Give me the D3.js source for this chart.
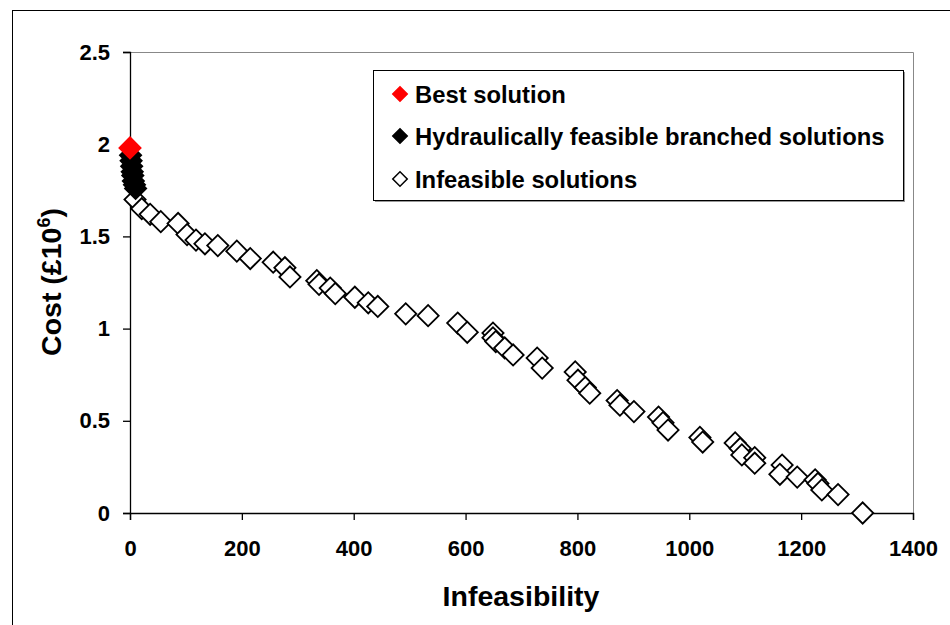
<!DOCTYPE html>
<html>
<head>
<meta charset="utf-8">
<script src="https://cdn.jsdelivr.net/npm/d3@7"></script>
<style>
  body { margin: 0; background: #fff; }
  svg text { font-family: "Liberation Sans", Arial, sans-serif; font-weight: bold; }
</style>
</head>
<body>
<svg id="chart" width="950" height="625"></svg>
<script>
// best solution
var bestX = [0];
var bestY = [1.98];

// hydraulically feasible branched solutions
var feasX = [1, 2, 3, 4, 5, 6, 8, 10];
var feasY = [1.94, 1.91, 1.88, 1.85, 1.83, 1.80, 1.78, 1.76];

// infeasible solutions
var infX = [9, 21, 36, 55, 86, 102, 118, 134, 157, 191, 215, 256, 277, 286,
            334, 338, 358, 367, 402, 426, 443, 493, 533, 586, 603, 649, 649, 654,
            670, 685, 728, 737, 796, 801, 814, 822, 871, 876, 901, 945, 953, 962,
            1019, 1024, 1082, 1091, 1094, 1117, 1117, 1166, 1162, 1193, 1225, 1230,
            1237, 1266, 1310];
var infY = [1.70, 1.65, 1.62, 1.58, 1.57, 1.51, 1.48, 1.46, 1.45, 1.42, 1.38, 1.36, 1.33, 1.28,
            1.26, 1.24, 1.22, 1.19, 1.17, 1.14, 1.12, 1.08, 1.07, 1.03, 0.98, 0.976, 0.95, 0.93,
            0.895, 0.857, 0.84, 0.786, 0.765, 0.72, 0.68, 0.65, 0.61, 0.585, 0.55, 0.52, 0.49, 0.45,
            0.41, 0.385, 0.38, 0.35, 0.315, 0.30, 0.27, 0.26, 0.21, 0.195, 0.18, 0.16,
            0.125, 0.10, 0.0];

var xTicks = [0, 200, 400, 600, 800, 1000, 1200, 1400];
var yTicks = [0, 0.5, 1, 1.5, 2, 2.5];

var legendLabels = ["Best solution", "Hydraulically feasible branched solutions", "Infeasible solutions"];

var svg = d3.select("#chart"),
    margin = {top: 52, right: 37, bottom: 112, left: 130},
    width = +svg.attr("width") - margin.left - margin.right,
    height = +svg.attr("height") - margin.top - margin.bottom;

// outer chart frame
svg.append("rect")
    .attr("x", 12.5)
    .attr("y", 10.5)
    .attr("width", 960)
    .attr("height", 640)
    .attr("fill", "none")
    .attr("stroke", "#000")
    .attr("stroke-width", 1);

var g = svg.append("g")
    .attr("transform", "translate(" + margin.left + "," + margin.top + ")");

var scaleX = d3.scaleLinear().domain([0, 1400]).range([0, width]);
var scaleY = d3.scaleLinear().domain([0, 2.5]).range([height, 0]);

// plot area border (top / right)
g.append("path")
    .attr("d", "M0,0.5H" + (width + 0.5) + "V" + height)
    .attr("fill", "none")
    .attr("stroke", "#888")
    .attr("stroke-width", 1);

var fmt = d3.format("");

var xAxis = g.append("g")
    .attr("class", "axis")
    .attr("transform", "translate(0," + height + ")")
    .call(d3.axisBottom(scaleX).tickValues(xTicks).tickSize(7).tickPadding(20).tickFormat(fmt));

var yAxis = g.append("g")
    .attr("class", "axis")
    .call(d3.axisLeft(scaleY).tickValues(yTicks).tickSize(7).tickPadding(13).tickFormat(fmt));

g.selectAll(".axis path, .axis line").attr("stroke", "#000").attr("stroke-width", 1.3);
g.selectAll(".axis text").attr("font-size", "22px").attr("fill", "#000");

// marker shapes: square turned 45 degrees
var bigDiamond = d3.symbol().type(d3.symbolSquare).size(225);
var smallDiamond = d3.symbol().type(d3.symbolSquare).size(105);

function drawSeries(xs, ys, fill) {
  g.append("g")
    .selectAll("path")
    .data(xs.map(function(d, i) { return {x: d, y: ys[i]}; }))
    .enter().append("path")
      .attr("d", bigDiamond)
      .attr("transform", function(d) {
        return "translate(" + scaleX(d.x) + "," + scaleY(d.y) + ") rotate(45)";
      })
      .attr("fill", fill)
      .attr("stroke", fill == "#fff" ? "#000" : fill)
      .attr("stroke-width", 1.8);
}

drawSeries(infX, infY, "#fff");
drawSeries(feasX, feasY, "#000");
drawSeries(bestX, bestY, "#ff0000");

// axis titles
svg.append("text")
    .attr("x", 521)
    .attr("y", 606)
    .attr("text-anchor", "middle")
    .attr("font-size", "28.5px")
    .text("Infeasibility");

var yTitle = svg.append("text")
    .attr("transform", "translate(61,282) rotate(-90)")
    .attr("text-anchor", "middle")
    .attr("font-size", "28.5px");
yTitle.append("tspan").text("Cost (£10");
yTitle.append("tspan").attr("dy", "-11").attr("font-size", "18px").text("6");
yTitle.append("tspan").attr("dy", "11").text(")");

// legend
var legend = svg.append("g").attr("transform", "translate(373,70)");

legend.append("rect")
    .attr("x", 2)
    .attr("y", 2)
    .attr("width", 530)
    .attr("height", 130)
    .attr("fill", "#999");

legend.append("rect")
    .attr("x", 0.5)
    .attr("y", 0.5)
    .attr("width", 530)
    .attr("height", 130)
    .attr("fill", "#fff")
    .attr("stroke", "#000")
    .attr("stroke-width", 1);

var legendFill = ["#ff0000", "#000", "#fff"];
var legendStroke = ["#ff0000", "#000", "#000"];
var legendY = [24, 66, 109];

legendLabels.forEach(function(label, i) {
  legend.append("path")
    .attr("d", smallDiamond)
    .attr("transform", "translate(27," + legendY[i] + ") rotate(45)")
    .attr("fill", legendFill[i])
    .attr("stroke", legendStroke[i])
    .attr("stroke-width", 1.5);
  legend.append("text")
    .attr("x", 42)
    .attr("y", legendY[i] + 8.5)
    .attr("font-size", "23.8px")
    .text(label);
});
</script>
</body>
</html>
